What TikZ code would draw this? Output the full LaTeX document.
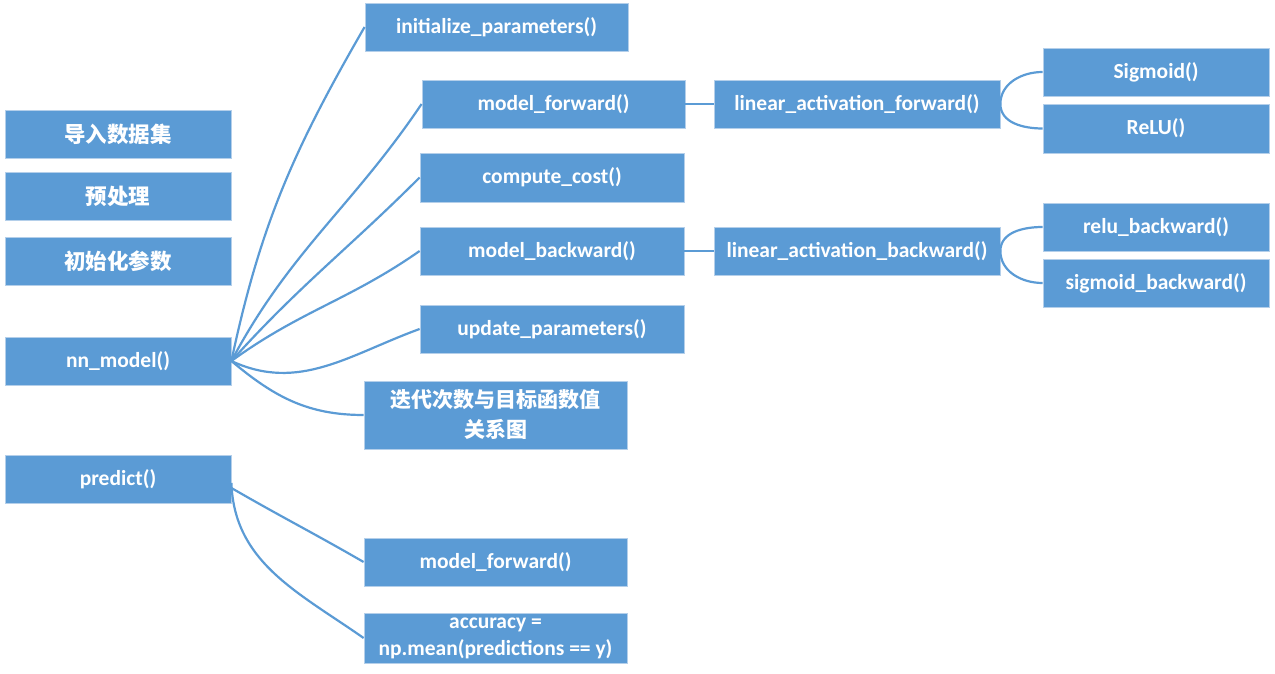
\documentclass[tikz,border=0pt]{standalone}
\usepackage{fontspec}
\setmainfont{Carlito}
\newfontfamily\cjk{Noto Sans CJK SC}
\definecolor{boxblue}{HTML}{5B9BD5}
\definecolor{boxedge}{HTML}{B4CFEA}
\tikzset{
  box/.style={rectangle, fill=boxblue, draw=boxedge, line width=0.8pt, text=white,
    font=\fontsize{21.5}{27}\selectfont\bfseries, inner sep=0pt, align=center},
  link/.style={draw=boxblue, line width=2.2pt}
}
\begin{document}
\begin{tikzpicture}[x=1pt,y=-1pt]
\useasboundingbox (0,0) rectangle (1275,674);
% left column
\node[box, minimum width=226pt, minimum height=48pt] (imp) at (118,134) {\cjk 导入数据集};
\node[box, minimum width=226pt, minimum height=48pt] (pre) at (118,196.5) {\cjk 预处理};
\node[box, minimum width=226pt, minimum height=48pt] (ini) at (118,261) {\cjk 初始化参数};
\node[box, minimum width=226pt, minimum height=48pt] (nn) at (118,361) {nn\_model()};
\node[box, minimum width=226pt, minimum height=48pt] (pred) at (118,479) {predict()};
% middle column
\node[box, minimum width=263pt, minimum height=48pt] (initp) at (496.5,27) {initialize\_parameters()};
\node[box, minimum width=263pt, minimum height=48pt] (mf) at (553.5,104) {model\_forward()};
\node[box, minimum width=264pt, minimum height=49pt] (cc) at (552,177.5) {compute\_cost()};
\node[box, minimum width=264pt, minimum height=48pt] (mb) at (552,251) {model\_backward()};
\node[box, minimum width=264pt, minimum height=48pt] (up) at (552,329) {update\_parameters()};
\node[box, minimum width=263pt, minimum height=68pt, font=\fontsize{21}{30}\selectfont\bfseries] (iter) at (495.5,415) {\cjk 迭代次数与目标函数值\\\cjk 关系图};
\node[box, minimum width=263pt, minimum height=48pt] (mf2) at (495.5,562) {model\_forward()};
\node[box, minimum width=263pt, minimum height=50pt, font=\fontsize{21.5}{26}\selectfont\bfseries] (acc) at (495.5,638) {accuracy =\\[1pt]np.mean(predictions == y)};
% activation
\node[box, minimum width=286pt, minimum height=48pt] (laf) at (857,104) {linear\_activation\_forward()};
\node[box, minimum width=286pt, minimum height=48pt] (lab) at (857,251) {linear\_activation\_backward()};
\node[box, minimum width=226pt, minimum height=48pt] (sig) at (1156,72) {Sigmoid()};
\node[box, minimum width=226pt, minimum height=49pt] (relu) at (1156,128.5) {ReLU()};
\node[box, minimum width=226pt, minimum height=48pt] (rb) at (1156,227) {relu\_backward()};
\node[box, minimum width=226pt, minimum height=48pt] (sb) at (1156,283) {sigmoid\_backward()};
% connectors
\draw[link] (nn.east) to[out=78, in=240] (initp.west);
\draw[link] (nn.east) to[out=62, in=236] (mf.west);
\draw[link] (nn.east) to[out=48, in=225] (cc.west);
\draw[link] (nn.east) to[out=36, in=215] (mb.west);
\draw[link] (nn.east) to[out=-25, in=200] (up.west);
\draw[link] (nn.east) to[out=-40, in=180] (iter.west);
\draw[link] ([yshift=-9pt]pred.east) to[out=-30, in=150] (mf2.west);
\draw[link] ([yshift=-4pt]pred.east) to[out=-88, in=145] (acc.west);
\draw[link] (mf.east) -- (laf.west);
\draw[link] (mb.east) -- (lab.west);
\draw[link] (laf.east) to[out=90, in=180] (sig.west);
\draw[link] (laf.east) to[out=-90, in=180] (relu.west);
\draw[link] (lab.east) to[out=90, in=180] (rb.west);
\draw[link] (lab.east) to[out=-90, in=180] (sb.west);
\end{tikzpicture}
\end{document}
